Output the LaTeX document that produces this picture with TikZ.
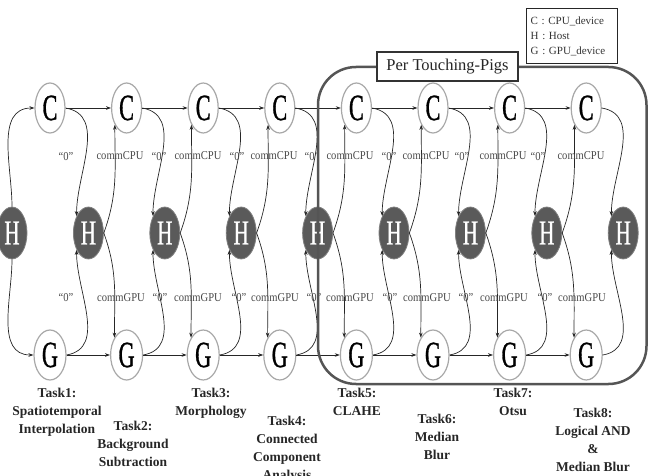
\documentclass[tikz,border=0pt]{standalone}
\usepackage{fontspec}
\setmainfont{Liberation Serif}
\newfontfamily\nodefont[FakeStretch=0.6,FakeBold=0.8]{Liberation Serif}
\newfontfamily\lblfont[FakeStretch=0.88]{Liberation Serif}
\usetikzlibrary{shapes.geometric,arrows.meta}
\definecolor{hfill}{HTML}{5A5A5A}
\definecolor{ringgray}{HTML}{A8A8A8}
\definecolor{boxgray}{HTML}{555555}
\begin{document}
\begin{tikzpicture}[x=1pt,y=1pt,
  cnode/.style={ellipse,draw=ringgray,line width=1.2pt,fill=white,minimum width=30pt,minimum height=50pt,inner sep=0pt,font=\nodefont\fontsize{37}{37}\selectfont,text=black},
  gnode/.style={cnode,minimum width=32pt},
  hnode/.style={ellipse,draw=gray,line width=0.8pt,fill=hfill,minimum width=30pt,minimum height=52pt,inner sep=0pt,font=\nodefont\fontsize{35}{35}\selectfont,text=white},
  arr/.style={-{Stealth[length=5pt,width=3.6pt]},line width=0.7pt,draw=black!85},
  lbl/.style={font=\lblfont\fontsize{12}{12}\selectfont,text=black!72,inner sep=0pt},
  tasklbl/.style={font=\bfseries\fontsize{13.5}{18.3}\selectfont,align=center,anchor=north,inner sep=0pt,text=black!85}
]
\useasboundingbox (0,0) rectangle (649,-476);

% nodes
\foreach \i in {1,...,8} {
  \node[cnode] (C\i) at ({50+76.6*(\i-1)},-108) {C};
  \node[gnode] (G\i) at ({50+76.6*(\i-1)},-355) {G};
}
\foreach \j in {0,...,8} {
  \node[hnode] (H\j) at ({12+76.4*\j},-233) {H};
}

% connectors
\draw[arr] (H0.north) to[out=90,in=180] (C1.west);
\draw[arr] (H0.south) to[out=-90,in=180] (G1.west);
\foreach \i [evaluate=\i as \n using int(\i+1)] in {1,...,7} {
  \draw[arr] (C\i) -- (C\n);
  \draw[arr] (G\i) -- (G\n);
  \draw[arr] (H\i.east) to[out=70,in=-90] (C\n.235);
  \draw[arr] (H\i.east) to[out=-70,in=90] (G\n.125);
}
\foreach \i in {1,...,8} {
  \draw[arr] (C\i.east) to[out=-10,in=90] (H\i.125);
  \draw[arr] (G\i.east) to[out=10,in=-90] (H\i.235);
}

% labels
\foreach \x [count=\k] in {66,159,237,312,389,462,538}
  \node[lbl] (zu\k) at (\x,-157) {“0”};
\foreach \x [count=\k] in {120,198,274,350,426,503,581}
  \node[lbl] (cc\k) at (\x,-156) {commCPU};
\foreach \x [count=\k] in {66,160,239,314,390,466,545}
  \node[lbl] (zl\k) at (\x,-298) {“0”};
\foreach \x [count=\k] in {121,198,275,350,427,504,582}
  \node[lbl] (cg\k) at (\x,-298) {commGPU};

% per touching-pigs frame
\draw[line width=2.5pt,draw=boxgray,rounded corners=38pt] (318,-67) rectangle (646.5,-384);
\node[draw=black!80,line width=1.4pt,fill=white,minimum width=141pt,minimum height=29pt,inner sep=0pt,
      font=\fontsize{16.5}{16.5}\selectfont,text=black!85] (per) at (447.5,-66.5) {Per Touching-Pigs};

% legend
\node[draw=black!85,line width=1.3pt,fill=white,anchor=north west,minimum height=55pt,text width=83pt,
      inner xsep=4pt,inner ysep=7pt,align=left,font=\fontsize{11}{15}\selectfont,text=black!80] (legend) at (526,-8)
      {C : CPU\_device\\H : Host\\G : GPU\_device};

% task labels
\node[tasklbl] (t1) at (57,-387.5) {Task1:\\Spatiotemporal\\Interpolation};
\node[tasklbl] (t2) at (133,-420.5) {Task2:\\Background\\Subtraction};
\node[tasklbl] (t3) at (211,-387.5) {Task3:\\Morphology};
\node[tasklbl] (t4) at (287,-415.5) {Task4:\\Connected\\Component\\Analysis};
\node[tasklbl] (t5) at (357,-387.5) {Task5:\\CLAHE};
\node[tasklbl] (t6) at (437,-413.5) {Task6:\\Median\\Blur};
\node[tasklbl] (t7) at (513,-387.5) {Task7:\\Otsu};
\node[tasklbl] (t8) at (593,-407.5) {Task8:\\Logical AND\\\&\\Median Blur};
\end{tikzpicture}
\end{document}
